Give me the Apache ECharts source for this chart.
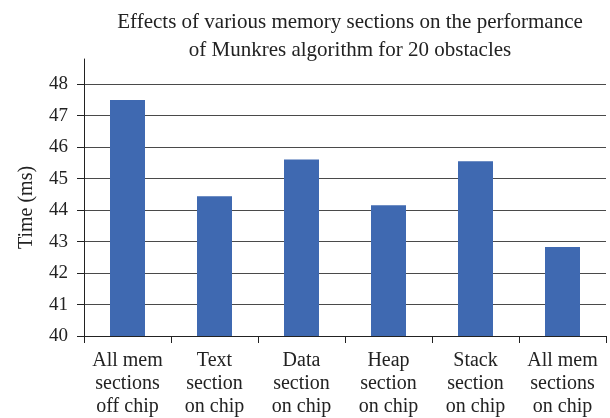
<!DOCTYPE html>
<html>
<head>
<meta charset="utf-8">
<script src="https://cdn.jsdelivr.net/npm/echarts@6/dist/echarts.min.js"></script>
<style>html,body{margin:0;padding:0;background:#fff}#c{width:610px;height:418px}</style>
</head>
<body>
<div id="c"></div>
<script>
const categories = [
  "All mem\nsections\noff chip",
  "Text\nsection\non chip",
  "Data\nsection\non chip",
  "Heap\nsection\non chip",
  "Stack\nsection\non chip",
  "All mem\nsections\non chip"
];
const timeValues = [47.5, 44.44, 45.61, 44.15, 45.55, 42.83];
const yTicks = [40, 41, 42, 43, 44, 45, 46, 47, 48];
const titleText = "Effects of various memory sections on the performance\nof Munkres algorithm for 20 obstacles";
const yName = "Time (ms)";

const FONT = "'Liberation Serif', 'DejaVu Serif', serif";
const chart = echarts.init(document.getElementById('c'), null, {renderer: 'canvas'});
chart.setOption({
  animation: false,
  backgroundColor: '#fff',
  title: {
    text: titleText,
    left: 345,
    top: 3,
    textAlign: 'center',
    textStyle: {fontFamily: FONT, fontSize: 21, fontWeight: 'normal', color: '#222', lineHeight: 28}
  },
  grid: {left: 84, right: 4, top: 59, bottom: 81, containLabel: false},
  xAxis: {
    type: 'category',
    data: categories,
    axisLine: {lineStyle: {color: '#222', width: 1}},
    axisTick: {show: true, alignWithLabel: false, length: 7, lineStyle: {color: '#222'}},
    axisLabel: {fontFamily: FONT, fontSize: 20, color: '#222', lineHeight: 23, margin: 13, interval: 0}
  },
  yAxis: {
    type: 'value',
    min: 40,
    max: 48.8,
    interval: 1,
    name: yName,
    nameLocation: 'middle',
    nameGap: 47,
    nameTextStyle: {fontFamily: FONT, fontSize: 20, color: '#222', padding: [0, 20, 0, 0]},
    axisLine: {show: true, lineStyle: {color: '#222', width: 1}},
    axisTick: {show: true, length: 7, customValues: yTicks, lineStyle: {color: '#222'}},
    axisLabel: {fontFamily: FONT, fontSize: 19, color: '#222', margin: 16, customValues: yTicks},
    splitLine: {show: true, lineStyle: {color: '#4a4a4a', width: 1}}
  },
  series: [{
    type: 'bar',
    data: timeValues,
    barWidth: 35,
    itemStyle: {color: '#3f69b1'}
  }]
});
</script>
</body>
</html>
